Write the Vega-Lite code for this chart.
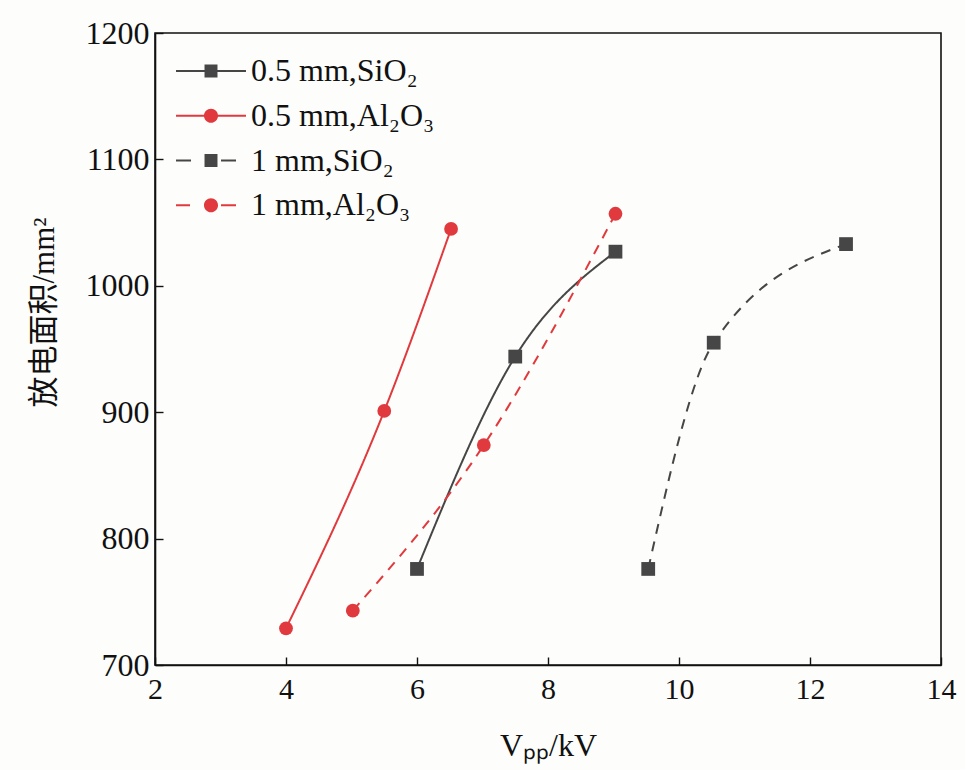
{
  "$schema": "https://vega.github.io/schema/vega-lite/v6.json",
  "width": 786,
  "height": 632,
  "autosize": {"type": "none"},
  "padding": {"left": 155, "top": 33, "right": 24, "bottom": 105},
  "background": "#fdfdfb",
  "config": {
    "view": {"stroke": "#111111", "strokeWidth": 1.6},
    "axis": {
      "labelFont": "Liberation Serif",
      "titleFont": "Liberation Serif, Noto Sans CJK SC",
      "labelColor": "#111111",
      "titleColor": "#111111",
      "domainColor": "#111111",
      "tickColor": "#111111",
      "domainWidth": 1.6,
      "tickWidth": 1.4,
      "grid": false
    }
  },
  "data": {
    "values": [
      {"series": "0.5 mm,SiO₂", "v": 6.0, "area": 776},
      {"series": "0.5 mm,SiO₂", "v": 7.5, "area": 944},
      {"series": "0.5 mm,SiO₂", "v": 9.03, "area": 1027},
      {"series": "0.5 mm,Al₂O₃", "v": 4.0, "area": 729},
      {"series": "0.5 mm,Al₂O₃", "v": 5.5, "area": 901},
      {"series": "0.5 mm,Al₂O₃", "v": 6.52, "area": 1045},
      {"series": "1 mm,SiO₂", "v": 9.53, "area": 776},
      {"series": "1 mm,SiO₂", "v": 10.53, "area": 955},
      {"series": "1 mm,SiO₂", "v": 12.55, "area": 1033},
      {"series": "1 mm,Al₂O₃", "v": 5.02, "area": 743},
      {"series": "1 mm,Al₂O₃", "v": 7.02, "area": 874},
      {"series": "1 mm,Al₂O₃", "v": 9.03, "area": 1057}
    ]
  },
  "encoding": {
    "x": {
      "field": "v", "type": "quantitative",
      "scale": {"domain": [2, 14], "nice": false},
      "axis": {
        "title": "Vₚₚ/kV", "values": [2, 4, 6, 8, 10, 12, 14],
        "labelFontSize": 30, "titleFontSize": 32, "titleFontWeight": "normal",
        "tickSize": -8, "labelPadding": 17, "titlePadding": 26, "labelFlush": false
      }
    },
    "y": {
      "field": "area", "type": "quantitative",
      "scale": {"domain": [700, 1200], "nice": false, "zero": false},
      "axis": {
        "title": "放电面积/mm²", "values": [700, 800, 900, 1000, 1100, 1200],
        "format": "d",
        "labelFontSize": 32, "titleFontSize": 31, "titleFontWeight": "normal",
        "tickSize": -8, "labelPadding": 14, "titleX": -95, "titleY": 279
      }
    }
  },
  "layer": [
    {
      "mark": {"type": "line", "interpolate": "monotone", "strokeWidth": 2},
      "encoding": {
        "stroke": {
          "field": "series", "type": "nominal",
          "scale": {
            "domain": ["0.5 mm,SiO₂", "0.5 mm,Al₂O₃", "1 mm,SiO₂", "1 mm,Al₂O₃"],
            "range": ["#464646", "#e03a3e", "#464646", "#e03a3e"]
          },
          "legend": null
        },
        "strokeDash": {
          "field": "series", "type": "nominal",
          "scale": {
            "domain": ["0.5 mm,SiO₂", "0.5 mm,Al₂O₃", "1 mm,SiO₂", "1 mm,Al₂O₃"],
            "range": [[1, 0], [1, 0], [10, 8], [10, 8]]
          },
          "legend": null
        }
      }
    },
    {
      "transform": [{"filter": "indexof(datum.series, 'Si') >= 0"}],
      "mark": {"type": "point", "filled": true, "opacity": 1, "size": 190, "shape": "square", "color": "#464646"}
    },
    {
      "transform": [{"filter": "indexof(datum.series, 'Al') >= 0"}],
      "mark": {"type": "point", "filled": true, "opacity": 1, "size": 190, "shape": "circle", "color": "#e03a3e"}
    },
    {
      "transform": [{"filter": "false"}],
      "mark": {"type": "point", "filled": true, "size": 144, "opacity": 1, "color": "#464646"},
      "encoding": {
        "shape": {
          "field": "series", "type": "nominal",
          "scale": {
            "domain": ["0.5 mm,SiO₂", "1 mm,SiO₂"],
            "range": [
              "M-5.83,-0.17H5.83V0.17H-5.83Z M-1.08,-1.08H1.08V1.08H-1.08Z",
              "M-5.83,-0.17H-3.33V0.17H-5.83Z M1.67,-0.17H4.17V0.17H1.67Z M-1.08,-1.08H1.08V1.08H-1.08Z"
            ]
          },
          "legend": {
            "title": null,
            "orient": "none",
            "legendX": 40,
            "legendY": 22,
            "padding": 0,
            "symbolSize": 144,
            "symbolStrokeWidth": 0,
            "symbolOpacity": 1,
            "symbolFillColor": "#464646",
            "labelFont": "Liberation Serif",
            "labelFontSize": 32,
            "labelColor": "#111111",
            "labelOffset": 24,
            "rowPadding": 57.5,
            "labelLimit": 400
          }
        }
      }
    },
    {
      "transform": [{"filter": "false"}],
      "mark": {"type": "point", "filled": true, "size": 144, "opacity": 1, "color": "#e03a3e"},
      "encoding": {
        "shape": {
          "field": "series", "type": "nominal",
          "scale": {
            "domain": ["0.5 mm,Al₂O₃", "1 mm,Al₂O₃"],
            "range": [
              "M-5.83,-0.17H5.83V0.17H-5.83Z M1.17,0A1.17,1.17 0 1,1 -1.17,0A1.17,1.17 0 1,1 1.17,0Z",
              "M-5.83,-0.17H-3.5V0.17H-5.83Z M1.67,-0.17H4.17V0.17H1.67Z M1.17,0A1.17,1.17 0 1,1 -1.17,0A1.17,1.17 0 1,1 1.17,0Z"
            ]
          },
          "legend": {
            "title": null,
            "orient": "none",
            "legendX": 40,
            "legendY": 66.7,
            "padding": 0,
            "symbolSize": 144,
            "symbolStrokeWidth": 0,
            "symbolOpacity": 1,
            "symbolFillColor": "#e03a3e",
            "labelFont": "Liberation Serif",
            "labelFontSize": 32,
            "labelColor": "#111111",
            "labelOffset": 24,
            "rowPadding": 57.5,
            "labelLimit": 400
          }
        }
      }
    }
  ],
  "resolve": {"scale": {"shape": "independent"}}
}
